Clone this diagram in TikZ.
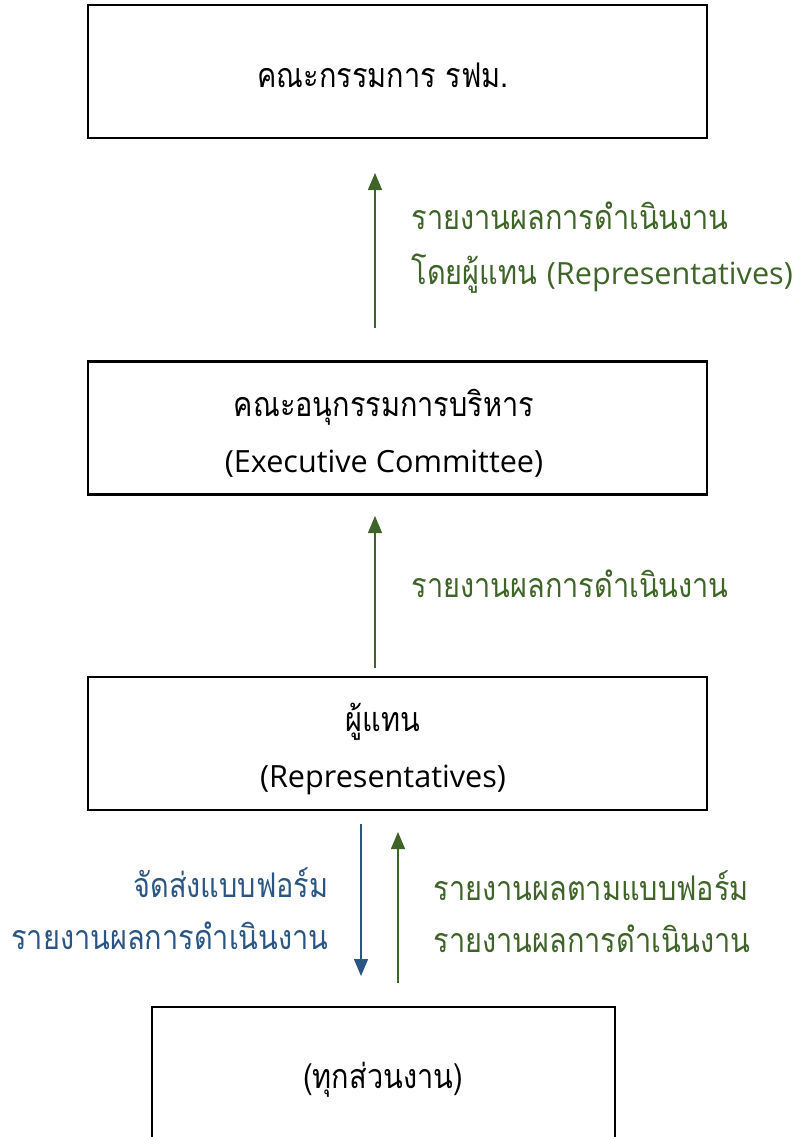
\documentclass[tikz,border=0pt]{standalone}
\usepackage{fontspec}
\setmainfont[Script=Thai,FakeStretch=0.85]{Loma}
\newfontfamily\enfont[Scale=0.9]{Open Sans}
\usetikzlibrary{arrows.meta}
\definecolor{repgreen}{HTML}{3F6428}
\definecolor{sendblue}{HTML}{2B5683}
\begin{document}
\begin{tikzpicture}[x=1pt,y=-1pt,
  box/.style={draw, line width=2.4pt, minimum width=619pt, minimum height=133pt},
  boxtext/.style={align=center, font=\fontsize{34}{56}\selectfont},
  upline/.style={repgreen, line width=1.4pt, -{Triangle[length=17pt,width=14pt]}},
  downline/.style={sendblue, line width=1.4pt, -{Triangle[length=17pt,width=14pt]}},
  greentext/.style={repgreen, anchor=west, align=left, font=\fontsize{34}{52}\selectfont},
  bluetext/.style={sendblue, anchor=east, align=right, font=\fontsize{34}{52}\selectfont}]
  \clip (0,0) rectangle (795,1137);
  % boxes
  \node[box] (board) at (397.5,71.5) {};
  \node[box] (exec) at (397.5,428) {};
  \node[box] (rep) at (397.5,743.5) {};
  \node[box, minimum width=463pt, minimum height=142pt] (units) at (383.5,1078) {};
  % box texts
  \node[boxtext] (boardtxt) at (383,75.5) {คณะกรรมการ รฟม.};
  \node[boxtext] (exectxt) at (384,433) {คณะอนุกรรมการบริหาร\\{\enfont (Executive Committee)}};
  \node[boxtext] (reptxt) at (383,749) {ผู้แทน\\{\enfont (Representatives)}};
  \node[boxtext] (unitstxt) at (383,1080) {(ทุกส่วนงาน)};
  % arrow ends
  \coordinate (a1s) at (375,328);
  \coordinate (a1e) at (375,173);
  \coordinate (a2s) at (375,668);
  \coordinate (a2e) at (375,516);
  \coordinate (a3s) at (361,824);
  \coordinate (a3e) at (361,976);
  \coordinate (a4s) at (398,983);
  \coordinate (a4e) at (398,832);
  \draw[upline] (a1s) -- (a1e);
  \draw[upline] (a2s) -- (a2e);
  \draw[downline] (a3s) -- (a3e);
  \draw[upline] (a4s) -- (a4e);
  % labels
  \node[greentext, font=\fontsize{34}{55}\selectfont] (l1) at (408,248) {รายงานผลการดำเนินงาน\\โดยผู้แทน {\enfont (Representatives)}};
  \node[greentext] (l2) at (408,584) {รายงานผลการดำเนินงาน};
  \node[bluetext] (l3) at (332,909) {จัดส่งแบบฟอร์ม\\รายงานผลการดำเนินงาน};
  \node[greentext] (l4) at (430,912) {รายงานผลตามแบบฟอร์ม\\รายงานผลการดำเนินงาน};
\end{tikzpicture}
\end{document}
